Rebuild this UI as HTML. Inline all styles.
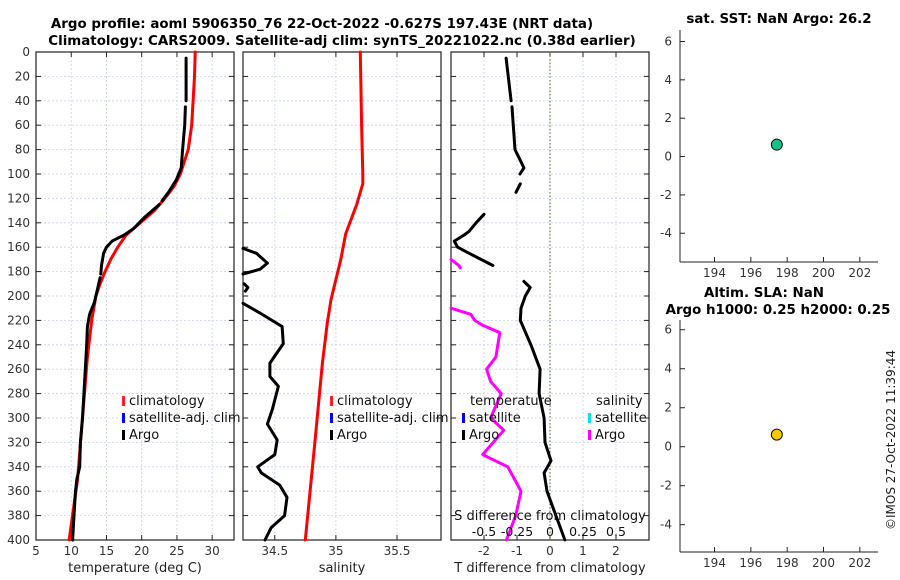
<!DOCTYPE html>
<html><head><meta charset="utf-8">
<style>
html,body{margin:0;padding:0;background:#fff;}
svg{display:block;font-family:"DejaVu Sans","Liberation Sans",sans-serif;}
</style></head>
<body>
<svg id="fig" width="900" height="580" viewBox="0 0 900 580" xmlns="http://www.w3.org/2000/svg">
<text x="322" y="28" text-anchor="middle" font-size="13.4" font-weight="bold">Argo profile: aoml 5906350_76 22-Oct-2022 -0.627S 197.43E (NRT data)</text>
<text x="342" y="45" text-anchor="middle" font-size="13.4" font-weight="bold">Climatology: CARS2009. Satellite-adj clim: synTS_20221022.nc (0.38d earlier)</text>
<text x="779" y="23" text-anchor="middle" font-size="13.4" font-weight="bold">sat. SST: NaN Argo: 26.2</text>
<text x="764" y="297" text-anchor="middle" font-size="13.4" font-weight="bold">Altim. SLA: NaN</text>
<text x="778" y="314" text-anchor="middle" font-size="13.4" font-weight="bold">Argo h1000: 0.25 h2000: 0.25</text>
<text transform="translate(895,440) rotate(-90)" text-anchor="middle" font-size="12" fill="#222">©IMOS 27-Oct-2022 11:39:44</text>
</svg>
<script>
// ---- data (depth in dbar) ----
const tArgoDepth = [5,20,40,null,45,60,80,95,105,115,122,null,125,135,145,150,155,160,165,175,182,null,185,195,205,215,225,240,260,280,300,320,340,350,360,380,400];
const tArgoVal   = [26.3,26.3,26.3,null,26.2,26.1,25.8,25.6,24.9,23.8,22.9,null,22.5,20.5,18.8,17.5,15.8,15.0,14.6,14.3,14.2,null,14.1,13.7,13.3,12.6,12.3,12.2,12.0,11.8,11.6,11.3,11.2,10.8,10.6,10.4,10.2];
const tClimDepth = [0,20,40,60,80,100,110,120,130,140,150,160,170,180,190,200,220,250,300,350,400];
const tClimVal   = [27.6,27.5,27.3,27.1,26.6,25.5,24.6,23.3,21.8,19.8,17.8,16.6,15.6,14.8,14.1,13.5,12.9,12.3,11.6,10.9,9.7];
const sArgoDepth = [161,165,173,178,182,null,190,193,196,null,206,214,225,239,255,266,274,293,305,318,330,340,345,355,365,380,390,400];
const sArgoVal   = [34.24,34.35,34.44,34.38,34.24,null,34.25,34.28,34.26,null,34.24,34.38,34.56,34.57,34.46,34.46,34.53,34.48,34.44,34.52,34.5,34.36,34.39,34.54,34.6,34.58,34.47,34.42];
const sClimDepth = [0,60,100,108,125,149,170,203,222,255,318,400];
const sClimVal   = [35.2,35.21,35.22,35.22,35.17,35.08,35.04,34.96,34.93,34.89,34.83,34.75];
const dTDepth = [5,40,null,45,80,90,95,100,null,108,115,null,133,140,147,150,155,160,165,175,null,188,193,200,210,220,240,260,280,300,320,335,345,360,380,400];
const dTVal   = [-1.33,-1.18,null,-1.15,-1.06,-0.88,-0.79,-0.91,null,-0.9,-1.03,null,-2.0,-2.24,-2.45,-2.6,-2.9,-2.8,-2.45,-1.73,null,-0.79,-0.6,-0.75,-0.88,-0.9,-0.58,-0.3,-0.33,-0.18,-0.15,0.03,-0.18,-0.09,0.18,0.45];
const dSDepth = [170,175,177,null,210,215,220,224,230,250,260,270,280,300,310,320,330,340,360,380,400];
const dSVal   = [-0.75,-0.69,-0.68,null,-0.75,-0.6,-0.57,-0.51,-0.38,-0.41,-0.48,-0.45,-0.37,-0.45,-0.35,-0.43,-0.51,-0.32,-0.22,-0.26,-0.33];
const depthTicks = [0,20,40,60,80,100,120,140,160,180,200,220,240,260,280,300,320,340,360,380,400];
const tTicks = [5,10,15,20,25,30];
const sTicks = [34.5,35,35.5];
const dTTicks = [-2,-1,0,1,2];
const dSTicks = [-0.5,-0.25,0,0.25,0.5];
const dSTickLabels = ['-0.5','-0.25','0','0.25','0.5'];
const lonTicks = [194,196,198,200,202];
const anomTicks = [6,4,2,0,-2,-4];
const sstLon = [197.43]; const sstVal = [0.62];
const slaLon = [197.43]; const slaVal = [0.62];

const svg = document.getElementById('fig');
const NS = 'http://www.w3.org/2000/svg';
function mk(tag, attrs, parent){ const e=document.createElementNS(NS,tag); for(const k in attrs) e.setAttribute(k,attrs[k]); (parent||svg).appendChild(e); return e; }
function lin(d0,d1,r0,r1){ return v => r0+(v-d0)*(r1-r0)/(d1-d0); }

const Y0=52, Y1=540;
const yD = lin(0,400,Y0,Y1);
const panels = [
  {x0:36,x1:234,xs:lin(5,33.1,36,234),ticks:tTicks,name:'temperature-panel',label:'temperature (deg C)'},
  {x0:243,x1:441,xs:lin(34.24,35.86,243,441),ticks:sTicks,name:'salinity-panel',label:'salinity'},
  {x0:451,x1:649,xs:lin(-3,3,451,649),ticks:dTTicks,name:'difference-panel',label:'T difference from climatology'}
];
panels.forEach((p,i)=>{
  const g = mk('g',{});
  
  
  depthTicks.forEach(d=>{
    const y=yD(d);
    if(d>0&&d<400){ const gl=mk('line',{x1:p.x0,x2:p.x1,y1:y,y2:y,stroke:'#c8d0ec','stroke-width':0.8,'stroke-dasharray':'2,2'},g);
        }
    mk('line',{x1:p.x0,x2:p.x0+5,y1:y,y2:y,stroke:'#222'},g);
    mk('line',{x1:p.x1,x2:p.x1-5,y1:y,y2:y,stroke:'#222'},g);
    if(i===0){ const t=mk('text',{x:30,y:y+4,'text-anchor':'end','font-size':12,fill:'#333'},g); t.textContent=d;
        }
  });
  p.ticks.forEach(v=>{
    const x=p.xs(v);
    if(x>p.x0+1&&x<p.x1-1){ const gl=mk('line',{x1:x,x2:x,y1:Y0,y2:Y1,stroke:'#c8d0ec','stroke-width':0.8,'stroke-dasharray':'2,2'},g);
        }
    mk('line',{x1:x,x2:x,y1:Y1,y2:Y1-5,stroke:'#222'},g);
    mk('line',{x1:x,x2:x,y1:Y0,y2:Y0+5,stroke:'#222'},g);
    const t=mk('text',{x:x,y:555,'text-anchor':'middle','font-size':12,fill:'#333'},g); t.textContent=v;
     
  });
  const b=mk('rect',{x:p.x0,y:Y0,width:p.x1-p.x0,height:Y1-Y0,fill:'none',stroke:'#222','stroke-width':1.2},g);
   
  const xl=mk('text',{x:(p.x0+p.x1)/2,y:572,'text-anchor':'middle','font-size':13,fill:'#222'},g); xl.textContent=p.label;
   
});
const zx = panels[2].xs(0);
const zl = mk('line',{x1:zx,x2:zx,y1:Y0,y2:Y1,stroke:'#4a6a2a','stroke-width':1,'stroke-dasharray':'1.5,2'});
 

function curve(depths, vals, xs, color, name){
  let d=''; let pen=false;
  for(let k=0;k<depths.length;k++){
    if(depths[k]===null||vals[k]===null){pen=false;continue;}
    const x=xs(vals[k]), y=yD(depths[k]);
    d += (pen?'L':'M')+x.toFixed(1)+' '+y.toFixed(1)+' '; pen=true;
  }
  const p=mk('path',{d:d,fill:'none',stroke:color,'stroke-width':3,'stroke-linejoin':'round','stroke-linecap':'round'});
  
  
}
curve(tClimDepth,tClimVal,panels[0].xs,'#ff0000','temperature-climatology-line');
curve(tArgoDepth,tArgoVal,panels[0].xs,'#000','temperature-argo-line');
curve(sClimDepth,sClimVal,panels[1].xs,'#ff0000','salinity-climatology-line');
curve(sArgoDepth,sArgoVal,panels[1].xs,'#000','salinity-argo-line');
const xsS = lin(-0.75,0.75,451,649);
curve(dTDepth,dTVal,panels[2].xs,'#000','temperature-difference-line');
curve(dSDepth,dSVal,xsS,'#ff00ff','salinity-difference-line');

const sdt = mk('text',{x:550,y:520,'text-anchor':'middle','font-size':13,fill:'#111'});
sdt.textContent='S difference from climatology';
 
dSTicks.forEach((v,k)=>{
  const t=mk('text',{x:xsS(v),y:536,'text-anchor':'middle','font-size':12.5,fill:'#111'}); t.textContent=dSTickLabels[k];
   
});

function legend(x,y,color,label,name){
  const r=mk('rect',{x:x,y:y-9,width:3,height:10,fill:color});
   
  const t=mk('text',{x:x+7,y:y,'font-size':13,fill:'#111'}); t.textContent=label;
   
}
legend(122,405,'#ff2020','climatology','legend-t-climatology');
legend(122,422,'#0000ff','satellite-adj. clim','legend-t-satellite-clim');
legend(122,439,'#000','Argo','legend-t-argo');
legend(330,405,'#ff2020','climatology','legend-s-climatology');
legend(330,422,'#0000ff','satellite-adj. clim','legend-s-satellite-clim');
legend(330,439,'#000','Argo','legend-s-argo');
const lt1=mk('text',{x:470,y:405,'font-size':13,fill:'#111'}); lt1.textContent='temperature';
 
const lt2=mk('text',{x:596,y:405,'font-size':13,fill:'#111'}); lt2.textContent='salinity';
 
legend(462,422,'#0000ff','satellite','legend-dt-satellite');
legend(462,439,'#000','Argo','legend-dt-argo');
legend(588,422,'#00e5e5','satellite','legend-ds-satellite');
legend(588,439,'#ff00ff','Argo','legend-ds-argo');

function scatterPanel(top,bot,ymax,ymin,lons,vals,color,name){
  const g=mk('g',{});
  
  
  const xs=lin(192.1,203,680,878), ys=lin(ymax,ymin,top,bot);
  mk('line',{x1:680,x2:680,y1:top,y2:bot,stroke:'#222'},g);
  mk('line',{x1:680,x2:878,y1:bot,y2:bot,stroke:'#222'},g);
  anomTicks.forEach(v=>{ const y=ys(v);
    mk('line',{x1:680,x2:685,y1:y,y2:y,stroke:'#222'},g);
    const t=mk('text',{x:672,y:y+4,'text-anchor':'end','font-size':12,fill:'#333'},g); t.textContent=v;
      });
  lonTicks.forEach(v=>{ const x=xs(v);
    mk('line',{x1:x,x2:x,y1:bot,y2:bot-5,stroke:'#222'},g);
    const t=mk('text',{x:x,y:bot+15,'text-anchor':'middle','font-size':12,fill:'#333'},g); t.textContent=v;
      });
  lons.forEach((lo,k)=>{ const c=mk('circle',{cx:xs(lo),cy:ys(vals[k]),r:5.5,fill:color,stroke:'#111','stroke-width':1},g);
      });
}
scatterPanel(30,262,6.6,-5.5,sstLon,sstVal,'#17c185','sst-panel');
scatterPanel(320,552,6.5,-5.4,slaLon,slaVal,'#f5c800','sla-panel');
</script>
</body></html>
